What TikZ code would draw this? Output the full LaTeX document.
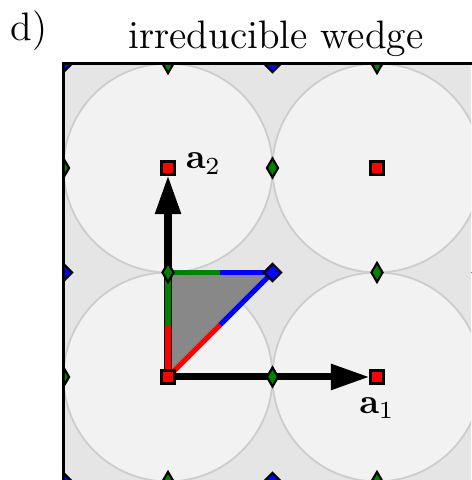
\documentclass[tikz,border=0pt]{standalone}
\usetikzlibrary{shapes.geometric,arrows.meta}
\pgfdeclarelayer{fg}
\pgfsetlayers{main,fg}
\definecolor{bgframe}{HTML}{E5E5E5}
\definecolor{circfill}{HTML}{F2F2F2}
\definecolor{circline}{HTML}{CCCCCC}
\definecolor{wedgefill}{HTML}{888888}
\definecolor{dgreen}{HTML}{008000}
\definecolor{pblue}{HTML}{0000FF}
\definecolor{pred}{HTML}{FF0000}
\begin{document}
\begin{tikzpicture}[x=2.09cm,y=2.09cm,
 redsq/.style={rectangle,draw=black,fill=pred,line width=0.6pt,minimum size=0.13cm,inner sep=0pt},
 greendia/.style={diamond,draw=black,fill=dgreen,line width=0.6pt,minimum width=0.12cm,minimum height=0.2cm,inner sep=0pt},
 bluedia/.style={diamond,draw=black,fill=pblue,line width=0.6pt,minimum width=0.18cm,minimum height=0.18cm,inner sep=0pt},
 vec/.style={line width=2pt,-{Triangle[length=11pt,width=7pt]}},
 wedgeedge/.style={line width=1.5pt},
 circ/.style={draw=circline,fill=circfill,line width=0.5pt},
 lbl/.style={font=\fontsize{11.3}{13}\selectfont},
 veclbl/.style={font=\fontsize{10}{12}\selectfont}
]
\useasboundingbox (-0.804,-0.493) rectangle (1.450,1.804);
\clip (-0.804,-0.493) rectangle (1.450,1.804);
% frame background and circles
\fill[bgframe] (-0.5,-0.5) rectangle (1.5,1.5);
\begin{scope}
\clip (-0.5,-0.5) rectangle (1.5,1.5);
\foreach \i in {0,1} \foreach \j in {0,1} \draw[circ] (\i,\j) circle (0.5);
\end{scope}
% markers on top layer
\begin{pgfonlayer}{fg}
\begin{scope}
\clip (-0.5,-0.5) rectangle (1.5,1.5);
\foreach \i in {0,1} \foreach \j in {0,1} \node[redsq] (r\i\j) at (\i,\j) {};
\foreach \i/\n in {-1/a,0/b,1/c} \foreach \j/\m in {0/b,1/c}
  \node[greendia] (gh\n\m) at (\i+0.5,\j) {};
\foreach \i/\n in {0/b,1/c} \foreach \j/\m in {-1/a,0/b,1/c}
  \node[greendia] (gv\n\m) at (\i,\j+0.5) {};
\foreach \i/\n in {-1/a,0/b,1/c} \foreach \j/\m in {-1/a,0/b,1/c}
  \node[bluedia] (bd\n\m) at (\i+0.5,\j+0.5) {};
\end{scope}
\draw[line width=0.7pt] (-0.5,-0.5) rectangle (1.5,1.5);
\end{pgfonlayer}
% wedge
\coordinate (w0) at (0,0);
\coordinate (wl) at (0,0.25);
\coordinate (wt) at (0,0.5);
\coordinate (wm) at (0.25,0.5);
\coordinate (wb) at (0.5,0.5);
\coordinate (wh) at (0.25,0.25);
\fill[wedgefill] (w0) -- (wt) -- (wb) -- cycle;
% lattice vectors
\draw[vec] (r00) -- (r10);
\draw[vec] (r00) -- (r01);
% coloured wedge edges
\draw[wedgeedge,pred] (w0) -- (wl);
\draw[wedgeedge,dgreen] (wl) -- (wt);
\draw[wedgeedge,dgreen] (wt) -- (wm);
\draw[wedgeedge,pblue] (wm) -- (wb);
\draw[wedgeedge,pred] (w0) -- (wh);
\draw[wedgeedge,pblue] (wh) -- (wb);
% labels
\node[veclbl] (la2) at (0.17,1.02) {$\mathbf{a}_2$};
\node[veclbl] (la1) at (1.0,-0.15) {$\mathbf{a}_1$};
\node[lbl,anchor=base] (title) at (0.517,1.574) {irreducible wedge};
\node[lbl,anchor=base] (panel) at (-0.665,1.612) {d)};
\end{tikzpicture}
\end{document}
